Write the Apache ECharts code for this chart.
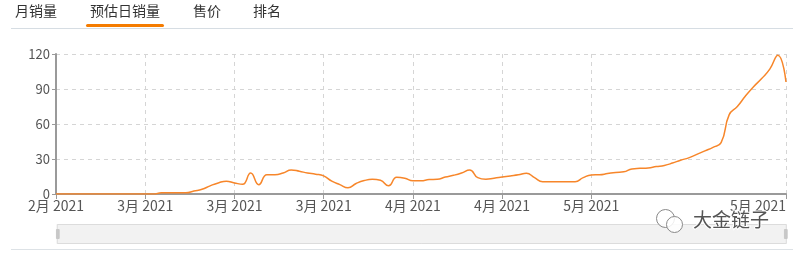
<!DOCTYPE html>
<html><head><meta charset="utf-8">
<script src="https://cdn.jsdelivr.net/npm/echarts@6/dist/echarts.min.js"></script>
<style>html,body{margin:0;padding:0;background:#fff;}#c{width:793px;height:256px;}</style>
</head><body><div id="c"></div>
<script>
const tabs = ['月销量', '预估日销量', '售价', '排名'];
const dates = [
 '2021-02-25','2021-02-26','2021-02-27','2021-02-28','2021-03-01','2021-03-02','2021-03-03','2021-03-04','2021-03-05','2021-03-06',
 '2021-03-07','2021-03-08','2021-03-09','2021-03-10','2021-03-11','2021-03-12','2021-03-13','2021-03-14','2021-03-15','2021-03-16',
 '2021-03-17','2021-03-18','2021-03-19','2021-03-20','2021-03-21','2021-03-22','2021-03-23','2021-03-24','2021-03-25','2021-03-26',
 '2021-03-27','2021-03-28','2021-03-29','2021-03-30','2021-03-31','2021-04-01','2021-04-02','2021-04-03','2021-04-04','2021-04-05',
 '2021-04-06','2021-04-07','2021-04-08','2021-04-09','2021-04-10','2021-04-11','2021-04-12','2021-04-13','2021-04-14','2021-04-15',
 '2021-04-16','2021-04-17','2021-04-18','2021-04-19','2021-04-20','2021-04-21','2021-04-22','2021-04-23','2021-04-24','2021-04-25',
 '2021-04-26','2021-04-27','2021-04-28','2021-04-29','2021-04-30','2021-05-01','2021-05-02','2021-05-03','2021-05-04','2021-05-05',
 '2021-05-06','2021-05-07','2021-05-08','2021-05-09','2021-05-10','2021-05-11','2021-05-12','2021-05-13','2021-05-14','2021-05-15',
 '2021-05-16','2021-05-17','2021-05-18','2021-05-19','2021-05-20','2021-05-21','2021-05-22','2021-05-23','2021-05-24','2021-05-25',
 '2021-05-26'
];
const dailySales = [
 0,0,0,0,0,0,0,0,0,0,
 0,0,0,1,1,1,1,2.5,4,7,
 9.5,11,9.5,8.3,18,8,16.6,16.6,18,20.6,
 19.5,18,17,15.5,11,8,5.4,9,11.5,12.6,
 11.8,7,14.3,13.5,11.4,11.4,12.4,12.6,14.5,16,
 18,20.6,14,12.6,13.5,14.5,15.5,16.5,17.7,14,
 10.6,10.6,10.6,10.6,10.6,14,16.3,16.5,17.5,18.5,
 19,21.5,22,22.3,23.5,24.5,26.5,29,31,34,
 37,40,44,68,75,84,92,99,107,119,
 96
];
const labelIdx = [0, 11, 22, 33, 44, 55, 66, 90];
const yTicks = [0, 30, 60, 90, 120];
const watermark = '大金链子';

const showIdx = (i) => labelIdx.indexOf(i) >= 0;
const chart = echarts.init(document.getElementById('c'));
const FONT = '"Noto Sans CJK SC", "Noto Sans", sans-serif';
const tabX = [15, 90, 193, 253];
const graphics = tabs.map((t, k) => ({
  type: 'text', left: tabX[k], top: 4, z: 10,
  style: { text: t, fill: '#333', font: '14px ' + FONT }
}));
graphics.push({ type: 'rect', left: 86, top: 24, z: 10, shape: { width: 78, height: 3, r: 1.5 }, style: { fill: '#f57c00' } });
graphics.push({ type: 'rect', left: 11, top: 28, z: 9, shape: { width: 782, height: 1 }, style: { fill: '#d6dde3' } });
graphics.push({ type: 'rect', left: 11, top: 249, z: 9, shape: { width: 782, height: 1 }, style: { fill: '#dde2e6' } });
graphics.push({ type: 'circle', left: 656, top: 209, z: 20, shape: { r: 9 }, style: { fill: 'rgba(255,255,255,0.85)', stroke: '#888', lineWidth: 1 } });
graphics.push({ type: 'circle', left: 666, top: 216, z: 21, shape: { r: 8 }, style: { fill: 'rgba(255,255,255,0.85)', stroke: '#888', lineWidth: 1 } });
graphics.push({ type: 'text', left: 692, top: 209, z: 22, style: { text: watermark, fill: '#555', stroke: '#fff', lineWidth: 2, font: '19px ' + FONT } });

chart.setOption({
  animation: false,
  textStyle: { fontFamily: FONT },
  graphic: graphics,
  grid: { left: 56, right: 7, top: 54, bottom: 62, containLabel: false },
  xAxis: {
    type: 'category', data: dates, boundaryGap: false,
    axisLine: { lineStyle: { color: '#9a9a9a', width: 2 } },
    axisTick: { show: true, interval: (i) => showIdx(i), length: 5, lineStyle: { color: '#9a9a9a' } },
    axisLabel: {
      interval: (i) => showIdx(i), color: '#555', fontSize: 14, margin: 5,
      alignMaxLabel: 'right',
      formatter: (v) => { const d = v.split('-'); return parseInt(d[1], 10) + '月 ' + d[0]; }
    },
    splitLine: { show: true, interval: (i) => showIdx(i), lineStyle: { color: '#d5d5d5', type: [4, 4] } }
  },
  yAxis: {
    type: 'value', min: yTicks[0], max: yTicks[yTicks.length - 1], interval: 30,
    axisLine: { show: true, lineStyle: { color: '#9a9a9a', width: 2 } },
    axisTick: { show: true, length: 4, lineStyle: { color: '#9a9a9a' } },
    axisLabel: { color: '#555', fontSize: 13, margin: 6 },
    splitLine: { lineStyle: { color: '#d5d5d5', type: [4, 4] } }
  },
  dataZoom: [{
    type: 'slider', xAxisIndex: 0, start: 0, end: 100,
    left: 56, right: 7, top: 224, height: 20,
    showDetail: false, showDataShadow: false,
    backgroundColor: '#f3f3f3', borderColor: '#dcdcdc',
    fillerColor: 'rgba(240,240,240,0.4)',
    dataBackground: { lineStyle: { opacity: 0 }, areaStyle: { opacity: 0 } },
    selectedDataBackground: { lineStyle: { opacity: 0 }, areaStyle: { opacity: 0 } },
    handleIcon: 'path://M0,0 L3,0 L3,10 L0,10 Z', handleSize: '45%',
    handleStyle: { color: '#c8c8c8', borderColor: '#c8c8c8' },
    moveHandleSize: 0, brushSelect: false,
    emphasis: { handleStyle: { color: '#c8c8c8', borderColor: '#c8c8c8' } }
  }],
  series: [{
    type: 'line', data: dailySales, smooth: true, symbol: 'none',
    lineStyle: { color: '#f7862a', width: 1.5 }
  }]
});
</script>
</body></html>
